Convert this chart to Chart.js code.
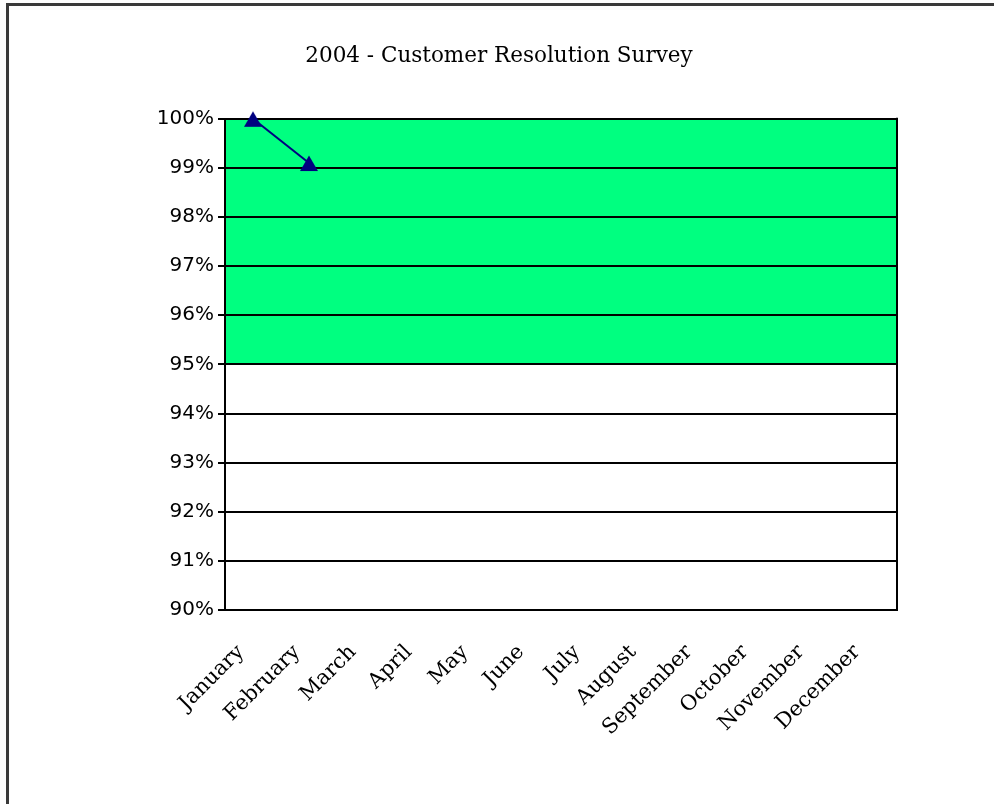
<!DOCTYPE html>
<html>
<head>
<meta charset="utf-8">
<script src="https://cdn.jsdelivr.net/npm/chart.js@4/dist/chart.umd.min.js"></script>
<style>
  html, body { margin: 0; padding: 0; background: #fff; }
  #wrap { position: relative; width: 994px; height: 804px; overflow: hidden; }
  #frame { position: absolute; left: 6px; top: 3px; width: 1000px; height: 900px;
           border-left: 3px solid #3a3a3a; border-top: 3px solid #3a3a3a; box-sizing: border-box; }
  canvas { position: absolute; left: 0; top: 0; }
</style>
</head>
<body>
<div id="wrap">
  <div id="frame"></div>
  <canvas id="c" width="994" height="804"></canvas>
</div>
<script>
const chartTitle = '2004 - Customer Resolution Survey';
const months = ['January', 'February', 'March', 'April', 'May', 'June', 'July',
                'August', 'September', 'October', 'November', 'December'];
const resolutionRate = [100, 99.1, null, null, null, null, null, null, null, null, null, null];
const targetLow = 95;
const targetHigh = 100;
const yMin = 90;
const yMax = 100;
const yStep = 1;

// triangle marker image (apex slightly above, base slightly below the point)
const marker = document.createElement('canvas');
marker.width = 20; marker.height = 18;
(function () {
  const m = marker.getContext('2d');
  m.fillStyle = '#000080';
  m.beginPath();
  m.moveTo(10, 1.5);
  m.lineTo(19, 17);
  m.lineTo(1, 17);
  m.closePath();
  m.fill();
})();

const bandPlugin = {
  id: 'band',
  beforeDraw(chart) {
    const { ctx, chartArea, scales } = chart;
    const y = scales.y;
    const top = y.getPixelForValue(targetHigh);
    const bottom = y.getPixelForValue(targetLow);
    ctx.save();
    ctx.fillStyle = '#00FF80';
    ctx.fillRect(chartArea.left, top, chartArea.right - chartArea.left, bottom - top);
    ctx.restore();
  },
  afterDraw(chart) {
    const { ctx, chartArea } = chart;
    ctx.save();
    ctx.strokeStyle = '#000';
    ctx.lineWidth = 2;
    ctx.beginPath();
    ctx.moveTo(chartArea.right, chartArea.top - 1);
    ctx.lineTo(chartArea.right, chartArea.bottom + 1);
    ctx.stroke();
    ctx.restore();
  }
};

new Chart(document.getElementById('c'), {
  type: 'line',
  data: {
    labels: months,
    datasets: [{
      label: 'Resolution',
      data: resolutionRate,
      borderColor: '#000080',
      backgroundColor: '#000080',
      borderWidth: 2,
      pointStyle: marker,
      pointRadius: 9,
      clip: false,
      spanGaps: false,
      tension: 0
    }]
  },
  plugins: [bandPlugin],
  options: {
    responsive: false,
    animation: false,
    devicePixelRatio: 1,
    layout: { padding: { left: 101, right: 97, top: 0, bottom: 0 } },
    plugins: {
      legend: { display: false },
      tooltip: { enabled: false },
      title: {
        display: true,
        text: chartTitle,
        color: '#000',
        font: { family: 'DejaVu Serif', size: 21.5, weight: 'normal' },
        padding: { top: 44, bottom: 49 }
      }
    },
    scales: {
      x: {
        offset: true,
        grid: { display: true, drawOnChartArea: false, drawTicks: false },
        border: { display: true, color: '#000', width: 2 },
        ticks: {
          color: '#000',
          minRotation: 45,
          maxRotation: 45,
          autoSkip: false,
          padding: 30,
          labelOffset: -12,
          font: { family: 'DejaVu Serif', size: 21 }
        },
        afterFit(scale) { scale.height = 194; }
      },
      y: {
        min: yMin,
        max: yMax,
        grid: { color: '#000', lineWidth: 2, tickLength: 7, drawTicks: true },
        border: { display: true, color: '#000', width: 2 },
        ticks: {
          stepSize: yStep,
          color: '#000',
          padding: 4,
          font: { family: 'DejaVu Sans', size: 20 },
          callback: v => v + '%'
        },
        afterFit(scale) { scale.width = 124; }
      }
    }
  }
});
</script>
</body>
</html>
